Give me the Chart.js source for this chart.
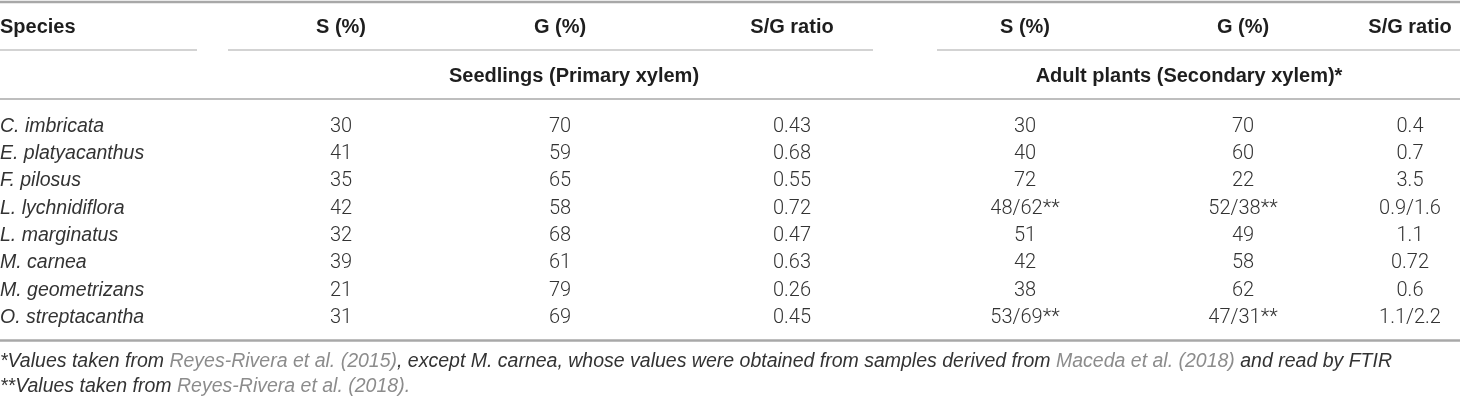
<!DOCTYPE html>
<html lang="en">
  <head>
    <meta charset="UTF-8" />
    <title>Lignin S/G composition</title>
    <script src="https://cdn.jsdelivr.net/npm/chart.js"></script>
    <style>
      html,
      body {
        margin: 0;
        padding: 0;
        background: #fff;
      }
      canvas {
        display: block;
      }
    </style>
  </head>
  <body>
    <canvas id="sgTable" width="1460" height="400"></canvas>

    <script>
      // table content
      const species = [
        "C. imbricata",
        "E. platyacanthus",
        "F. pilosus",
        "L. lychnidiflora",
        "L. marginatus",
        "M. carnea",
        "M. geometrizans",
        "O. streptacantha",
      ];
      const seedlingS = [30, 41, 35, 42, 32, 39, 21, 31];
      const seedlingG = [70, 59, 65, 58, 68, 61, 79, 69];
      const seedlingRatio = ["0.43", "0.68", "0.55", "0.72", "0.47", "0.63", "0.26", "0.45"];
      const adultS = ["30", "40", "72", "48/62**", "51", "42", "38", "53/69**"];
      const adultG = ["70", "60", "22", "52/38**", "49", "58", "62", "47/31**"];
      const adultRatio = ["0.4", "0.7", "3.5", "0.9/1.6", "1.1", "0.72", "0.6", "1.1/2.2"];
      const columnLabels = ["Species", "S (%)", "G (%)", "S/G ratio", "S (%)", "G (%)", "S/G ratio"];
      const groupLabels = ["Seedlings (Primary xylem)", "Adult plants (Secondary xylem)*"];
      const footnote1 = [
        ["*Values taken from ", false],
        ["Reyes-Rivera et al. (2015)", true],
        [", except M. carnea, whose values were obtained from samples derived from ", false],
        ["Maceda et al. (2018)", true],
        [" and read by FTIR", false],
      ];
      const footnote2 = [
        ["**Values taken from ", false],
        ["Reyes-Rivera et al. (2018).", true],
      ];

      // layout (x units of the linear scale)
      const colX = [0, 341, 560, 792, 1025, 1243, 1410];
      const groupX = [574, 1189];

      const TEXT = "#333333";
      const HEAD = "#1e1e1e";
      const LINK = "#8c8c8c";
      const RULE = "#a8a8a8";
      const bodyFont = "300 20px Roboto, 'Liberation Sans', sans-serif";
      const italicFont = "italic 19.5px 'Liberation Sans', Arial, sans-serif";
      const boldFont = "bold 20px 'Liberation Sans', Arial, sans-serif";

      const columns = [seedlingS, seedlingG, seedlingRatio, adultS, adultG, adultRatio];

      const datasets = columns.map((col, c) => ({
        label: columnLabels[c + 1],
        data: col.map((v, i) => ({ x: colX[c + 1], y: species[i], text: String(v) })),
        pointRadius: 0,
        showLine: false,
      }));
      datasets.unshift({
        label: "Species",
        data: species.map((s) => ({ x: colX[0], y: s, text: s })),
        pointRadius: 0,
        showLine: false,
      });

      function rule(ctx, x1, x2, y, w) {
        ctx.save();
        ctx.strokeStyle = RULE;
        ctx.lineWidth = w;
        ctx.beginPath();
        ctx.moveTo(x1, y);
        ctx.lineTo(x2, y);
        ctx.stroke();
        ctx.restore();
      }

      function runs(ctx, parts, x, y) {
        ctx.font = italicFont;
        ctx.textAlign = "left";
        parts.forEach(([t, link]) => {
          ctx.fillStyle = link ? LINK : TEXT;
          ctx.fillText(t, x, y);
          x += ctx.measureText(t).width;
        });
      }

      const tablePlugin = {
        id: "tablePlugin",
        afterDatasetsDraw(chart) {
          const { ctx, chartArea, scales } = chart;
          const xs = scales.x;
          const W = chart.width;
          ctx.save();
          ctx.textBaseline = "alphabetic";

          // header
          rule(ctx, 0, W, 2, 2.5);
          ctx.font = boldFont;
          ctx.fillStyle = HEAD;
          columnLabels.forEach((lab, c) => {
            ctx.textAlign = c === 0 ? "left" : "center";
            ctx.fillText(lab, xs.getPixelForValue(colX[c]), 33);
          });
          rule(ctx, 0, 197, 50, 1.2);
          rule(ctx, 228, 873, 50, 1.2);
          rule(ctx, 937, W, 50, 1.2);
          ctx.textAlign = "center";
          groupLabels.forEach((g, i) => {
            ctx.fillText(g, xs.getPixelForValue(groupX[i]), 82);
          });
          rule(ctx, 0, W, 99, 1.5);

          // cells
          chart.data.datasets.forEach((ds, c) => {
            const meta = chart.getDatasetMeta(c);
            ctx.font = c === 0 ? italicFont : bodyFont;
            ctx.fillStyle = TEXT;
            ctx.textAlign = c === 0 ? "left" : "center";
            meta.data.forEach((pt, i) => {
              ctx.fillText(ds.data[i].text, pt.x, pt.y + 5);
            });
          });

          // footer
          rule(ctx, 0, W, chartArea.bottom + 9, 2.5);
          runs(ctx, footnote1, 0, chartArea.bottom + 35.5);
          runs(ctx, footnote2, 0, chartArea.bottom + 60.5);
          ctx.restore();
        },
      };

      new Chart(document.getElementById("sgTable"), {
        type: "scatter",
        data: { datasets: datasets },
        options: {
          responsive: false,
          animation: false,
          events: [],
          layout: { padding: { top: 113, bottom: 68.5, left: 0, right: 0 } },
          scales: {
            x: { type: "linear", min: 0, max: 1460, display: false },
            y: { type: "category", labels: species, offset: true, display: false },
          },
          plugins: {
            legend: { display: false },
            tooltip: { enabled: false },
          },
        },
        plugins: [tablePlugin],
      });
    </script>
  </body>
</html>
